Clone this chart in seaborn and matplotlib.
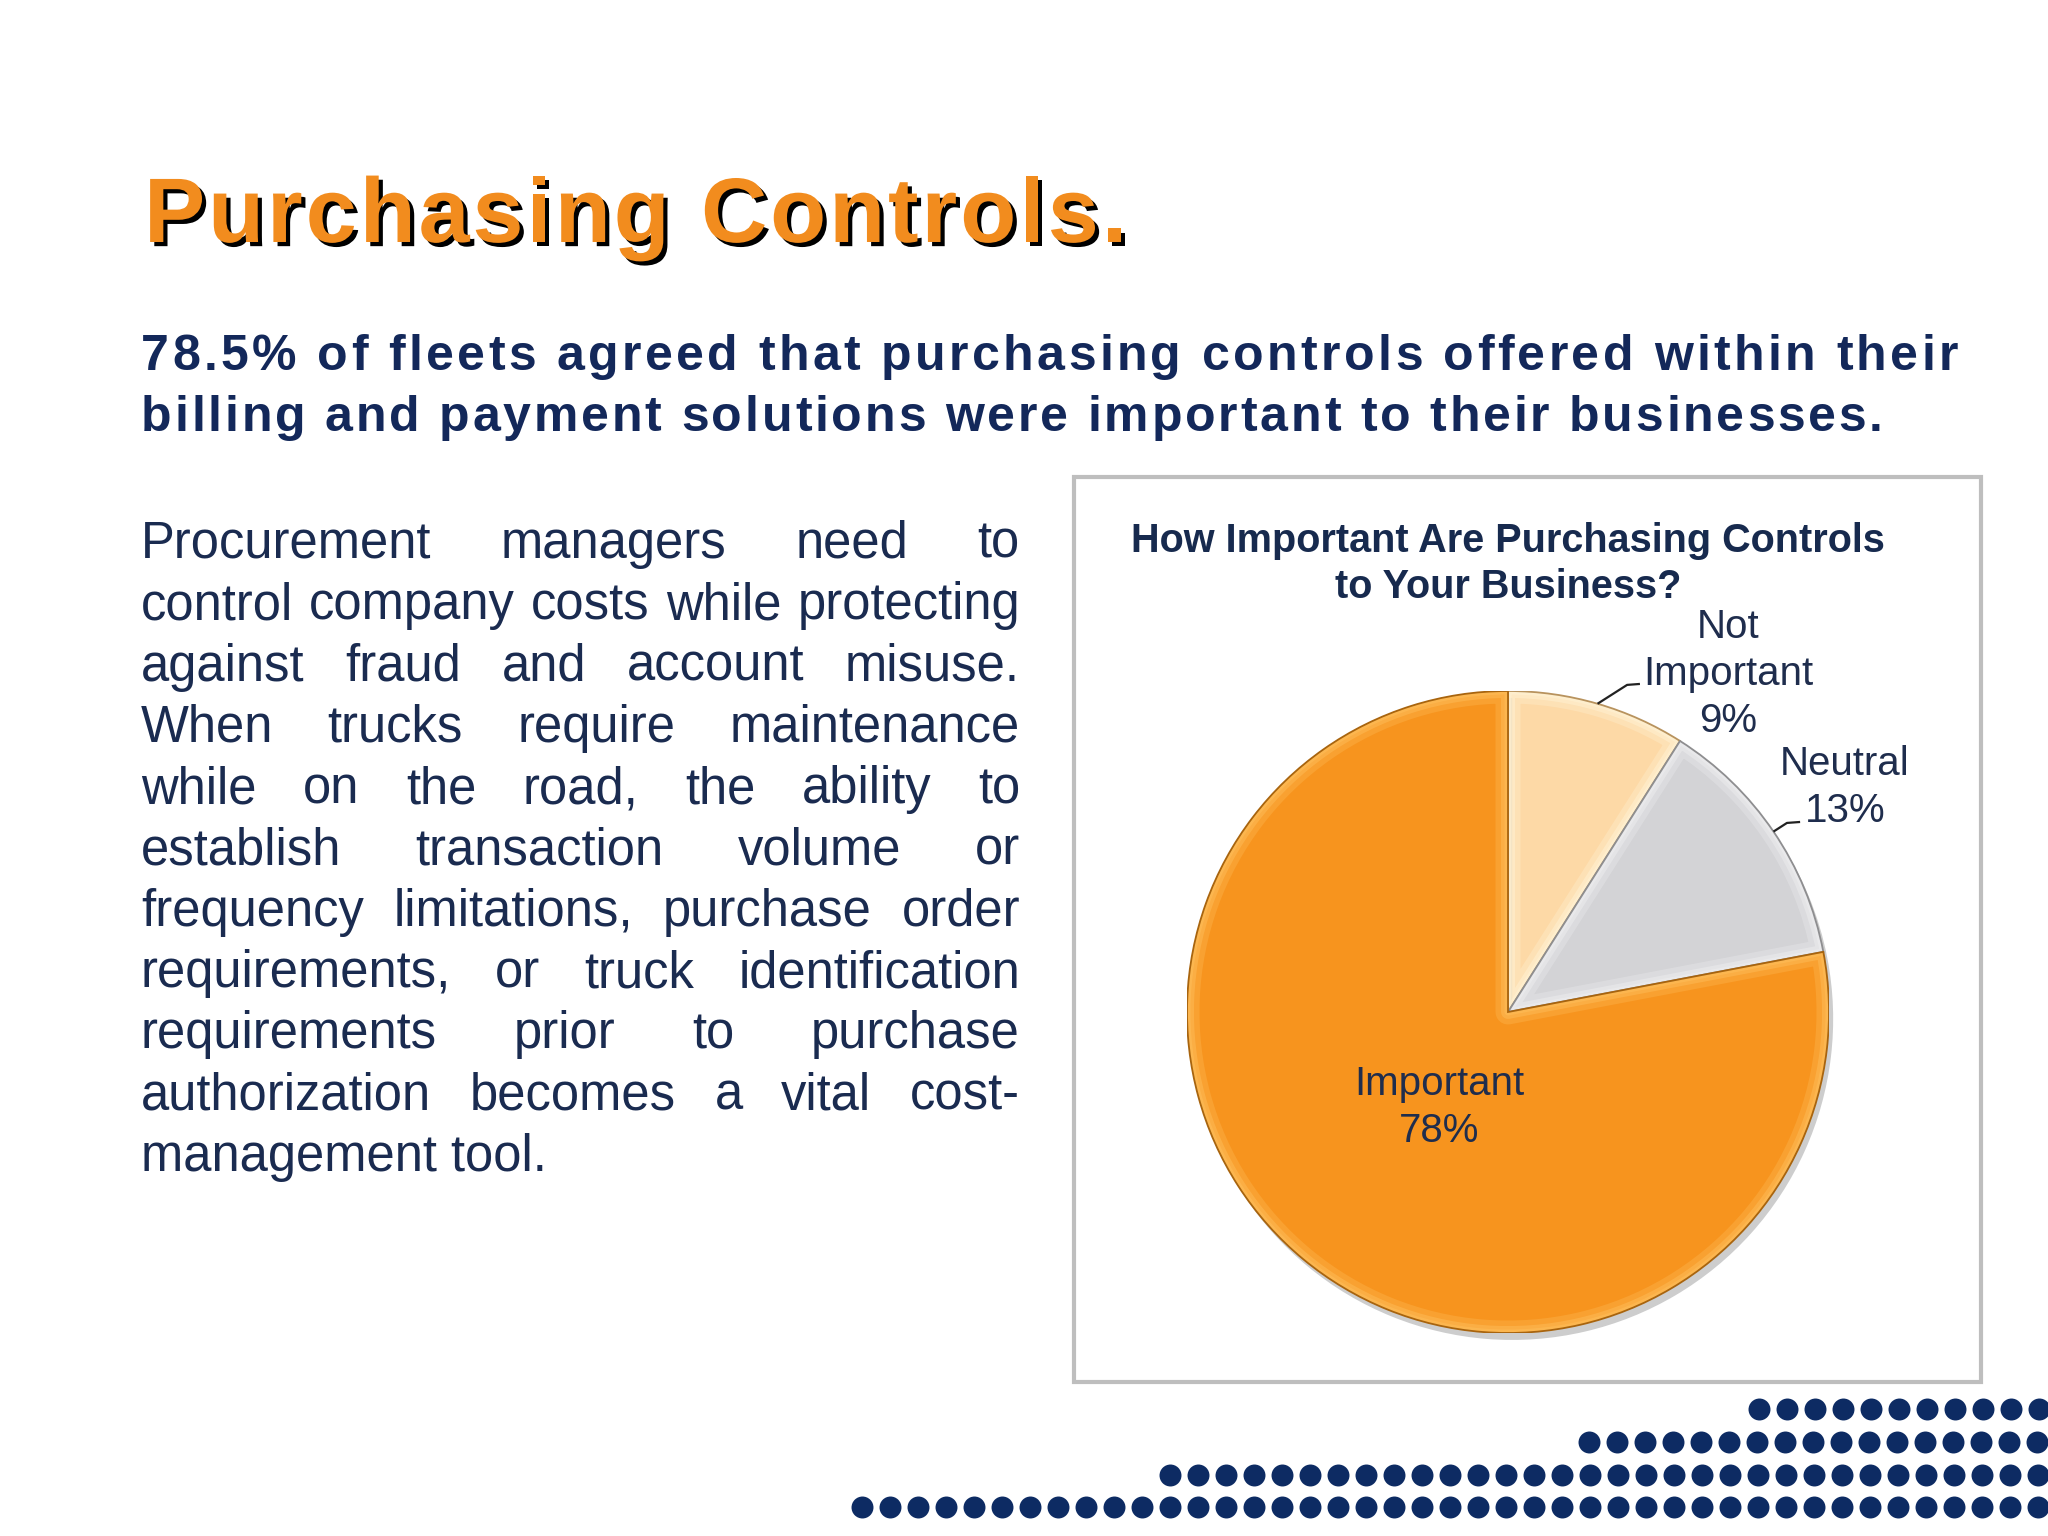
import numpy as np
import pandas as pd
import matplotlib
matplotlib.use('Agg')
import matplotlib.pyplot as plt
import matplotlib.patheffects as pe
from matplotlib.patches import Rectangle, Wedge
import seaborn as sns

# ---------------- data ----------------
categories = ['Not Important', 'Neutral', 'Important']
display_labels = ['Not\nImportant', 'Neutral', 'Important']
shares = [9, 13, 78]
slice_colors = ['#FDD9A6', '#D3D3D6', '#F7941E']
bevel_colors = ['#FFF1D2', '#ECECEE', '#FDBA55']
edge_colors = ['#B8935E', '#8E8E90', '#A8640E']

title_text = 'Purchasing Controls.'
subtitle_lines = [
    '78.5% of fleets agreed that purchasing controls offered within their',
    'billing and payment solutions were important to their businesses.',
]
body_lines = [
    'Procurement managers need to',
    'control company costs while protecting',
    'against fraud and account misuse.',
    'When trucks require maintenance',
    'while on the road, the ability to',
    'establish transaction volume or',
    'frequency limitations, purchase order',
    'requirements, or truck identification',
    'requirements prior to purchase',
    'authorization becomes a vital cost-',
    'management tool.',
]
chart_title_lines = ['How Important Are Purchasing Controls', 'to Your Business?']

# ---------------- style ----------------
sns.set_theme(style='white')
plt.rcParams['font.family'] = ['Liberation Sans', 'DejaVu Sans']

W, H = 2048, 1536
fig = plt.figure(figsize=(20.48, 15.36), dpi=100)
fig.patch.set_facecolor('white')
bg = fig.add_axes([0, 0, 1, 1])
bg.set_xlim(0, W)
bg.set_ylim(H, 0)
bg.axis('off')
renderer = fig.canvas.get_renderer()

_cache = {}


def ink_width(s, size, weight):
    key = (s, size, weight)
    if key not in _cache:
        t = bg.text(0, 0, s, fontsize=size, fontweight=weight)
        _cache[key] = t.get_window_extent(renderer).width
        t.remove()
    return _cache[key]


def advance(c, size, weight):
    return ink_width('x' + c + 'x', size, weight) - ink_width('xx', size, weight)


def tracked_text(s, x0, y, size, weight, color, target_w=None, tracking=None, effects=None):
    advs = [advance(c, size, weight) for c in s]
    natural = sum(advs[:-1]) + ink_width(s[-1], size, weight)
    if tracking is None:
        tracking = (target_w - natural) / (len(s) - 1)
    x = x0
    for c, a in zip(s, advs):
        if c != ' ':
            bg.text(x, y, c, fontsize=size, fontweight=weight, color=color,
                    va='baseline', ha='left', path_effects=effects)
        x += a + tracking
    return tracking


def justified(line, x0, x1, y, size, color, last=False):
    words = line.split(' ')
    if last or len(words) == 1:
        bg.text(x0, y, line, fontsize=size, color=color, va='baseline', ha='left')
        return
    ws = [ink_width(w, size, 'normal') for w in words]
    gap = (x1 - x0 - sum(ws)) / (len(words) - 1)
    x = x0
    for w, wd in zip(words, ws):
        bg.text(x, y, w, fontsize=size, color=color, va='baseline', ha='left')
        x += wd + gap


# ---------------- title ----------------
shadow = [pe.SimplePatchShadow(offset=(3, -3), shadow_rgbFace='black', alpha=1.0), pe.Normal()]
tracked_text(title_text, 144, 242, 66, 'bold', '#F28C1E', target_w=1127 - 144, effects=shadow)

# ---------------- subtitle ----------------
navy = '#13285A'
tracked_text(subtitle_lines[0], 141, 370, 36, 'bold', navy, target_w=1958 - 141)
tracked_text(subtitle_lines[1], 141, 431, 36, 'bold', navy, target_w=1883 - 141)

# ---------------- body ----------------
for i, line in enumerate(body_lines):
    justified(line, 141, 1020, 558 + i * 61.3, 36.5, '#1A2B50', last=(i == len(body_lines) - 1))

# ---------------- chart frame ----------------
bg.add_patch(Rectangle((1074, 477), 907, 905, fill=False, edgecolor='#BEBEBE', lw=3))
for j, ln in enumerate(chart_title_lines):
    bg.text(1508, 552 + j * 46, ln, fontsize=28.5, fontweight='bold',
            color='#172A4E', ha='center', va='baseline')

# ---------------- pie ----------------
cx, cy, R = 1508, 1012, 321
ax = fig.add_axes([(cx - R) / W, 1 - (cy + R) / H, 2 * R / W, 2 * R / H])
df = pd.DataFrame({'category': categories, 'share': shares})
wedges, _ = ax.pie(df['share'], colors=slice_colors, startangle=90, counterclock=False,
                   radius=1.0, wedgeprops=dict(linewidth=0))
for w, bc, ec in zip(wedges, bevel_colors, edge_colors):
    w.set_path_effects([pe.SimplePatchShadow(offset=(3, -5), shadow_rgbFace='#707070', alpha=0.35),
                        pe.Normal()])
    # bevel: light band along the inside of each slice edge
    for lw, al in [(18, 0.35), (10, 0.55), (5, 0.7)]:
        b = Wedge(w.center, w.r, w.theta1, w.theta2, facecolor='none', edgecolor=bc,
                  lw=lw, alpha=al, joinstyle='round')
        ax.add_patch(b)
        b.set_clip_path(w)
    o = Wedge(w.center, w.r, w.theta1, w.theta2, facecolor='none', edgecolor=ec, lw=1.3)
    ax.add_patch(o)
ax.set_xlim(-1, 1)
ax.set_ylim(-1, 1)
ax.set_aspect('equal')
ax.axis('off')

label_pos = [(0.685, 1.052), (1.050, 0.700), (-0.215, -0.296)]
elbows = [[(0.371, 1.019), (0.411, 1.022)], [(0.869, 0.589), (0.910, 0.592)], None]
for w, lab, val, pos, elb in zip(wedges, display_labels, df['share'], label_pos, elbows):
    ax.text(pos[0], pos[1], f'{lab}\n{val}%', fontsize=29, color='#1F2D4D',
            ha='center', va='center', linespacing=1.3, clip_on=False)
    if elb is not None:
        mid = np.deg2rad((w.theta1 + w.theta2) / 2)
        xs = [np.cos(mid), elb[0][0], elb[1][0]]
        ys = [np.sin(mid), elb[0][1], elb[1][1]]
        ax.plot(xs, ys, color='#222222', lw=1.6, clip_on=False, solid_capstyle='butt')

# ---------------- decorative dots ----------------
row_y = [1409, 1442, 1475, 1507]
row_start = [1759, 1589, 1170, 862]
for yy, xs0 in zip(row_y, row_start):
    xs = np.arange(xs0, W + 20, 28.0)
    bg.scatter(xs, np.full_like(xs, yy), s=250, color='#0D2B63', linewidths=0, clip_on=True)

fig.savefig('out.png', dpi=100, facecolor='white')
